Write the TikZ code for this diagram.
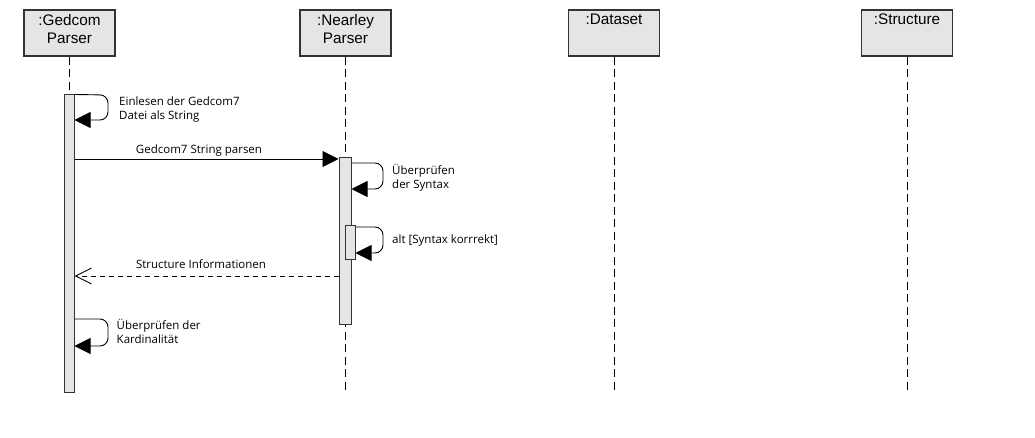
\documentclass[tikz,border=0pt]{standalone}
\usepackage{fontspec}
\setmainfont{Open Sans}
\newfontfamily\boxfont{Liberation Sans}
\usetikzlibrary{arrows.meta,calc}
\begin{document}
\begin{tikzpicture}[x=1pt,y=-1pt,
  obj/.style={draw=black!80,fill=black!10,line width=1.1pt,minimum width=91pt,minimum height=46pt,inner sep=0pt},
  objlabel/.style={font=\boxfont\fontsize{15.3}{18}\selectfont,align=center,anchor=north,inner sep=0pt},
  lifeline/.style={line width=1pt,dash pattern=on 8pt off 4.5pt},
  act/.style={draw=black!80,fill=black!10,line width=1pt,inner sep=0pt},
  msg/.style={line width=0.9pt,-{Triangle[length=16pt,width=16pt]}},
  self/.style={msg,rounded corners=8pt},
  ret/.style={line width=0.9pt,dash pattern=on 5pt off 4pt,-{Straight Barb[length=16pt,width=16pt,line width=0.9pt]}},
  lbl/.style={font=\fontsize{11.5}{14.7}\selectfont,align=left,inner sep=0pt},
]
\useasboundingbox (0,0) rectangle (1035,438);
% objects
\node[obj] (g) at (69.5,33) {};
\node[obj] (n) at (345.5,33) {};
\node[obj] (d) at (614,33) {};
\node[obj] (s) at (907,33) {};
\node[objlabel] (gl) at (69.5,14) {:Gedcom\\Parser};
\node[objlabel] (nl) at (345.5,14) {:Nearley\\Parser};
\node[objlabel] (dl) at (614,14) {:Dataset};
\node[objlabel] (sl) at (907,14) {:Structure};
% lifeline ends
\coordinate (gend) at (69,392);
\coordinate (nend) at (345,394);
\coordinate (dend) at (614,393);
\coordinate (send) at (907,393);
\draw[lifeline] (g.south -| gend) -- (gend);
\draw[lifeline] (n.south -| nend) -- (nend);
\draw[lifeline] (d.south) -- (dend);
\draw[lifeline] (s.south) -- (send);
% activations
\node[act,minimum width=10pt,minimum height=297pt] (ga) at (69,243.5) {};
\node[act,minimum width=12pt,minimum height=166pt] (na) at (345,241) {};
\node[act,minimum width=10pt,minimum height=33pt] (nb) at (350,242.5) {};
% self message 1
\draw[self] (ga.north east) -- (108,95) -- (108,120) -- (ga.east |- 0,120);
\node[lbl,anchor=base west] (t1) at (119,120) {Einlesen der Gedcom7\\Datei als String};
% call
\draw[msg] (ga.east |- 0,159) -- (na.west |- 0,159);
\node[lbl,anchor=base] (t2) at (199,154) {Gedcom7 String parsen};
% self message syntax
\draw[self] (na.east |- 0,163) -- (383,163) -- (383,189) -- (na.east |- 0,189);
\node[lbl,anchor=base west] (t3) at (392,188.8) {Überprüfen\\der Syntax};
% nested
\draw[self] (nb.east |- 0,227) -- (383,227) -- (383,253) -- (nb.east |- 0,253);
\node[lbl,anchor=base west] (t4) at (392,243.5) {alt [Syntax korrrekt]};
% return
\draw[ret] (na.west |- 0,276) -- (ga.east |- 0,276);
\node[lbl,anchor=base] (t5) at (201,269) {Structure Informationen};
% self message cardinality
\draw[self] (ga.east |- 0,319) -- (108,319) -- (108,346) -- (ga.east |- 0,346);
\node[lbl,anchor=base west] (t6) at (116.5,343.7) {Überprüfen der\\Kardinalität};
\end{tikzpicture}
\end{document}
